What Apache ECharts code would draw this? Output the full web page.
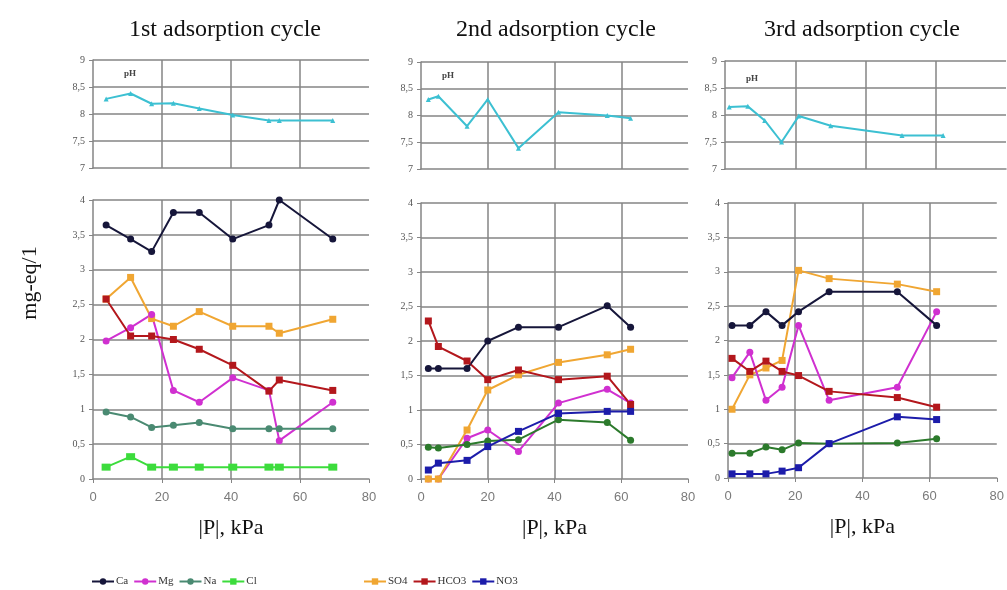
<!DOCTYPE html>
<html>
<head>
<meta charset="utf-8">
<script src="https://cdn.jsdelivr.net/npm/echarts@6/dist/echarts.min.js"></script>
<style>
html,body{margin:0;padding:0;background:#fff;}
#chart{width:1007px;height:590px;}
</style>
</head>
<body>
<div id="chart"></div>
<script>
// ---- data ----
const titles = ['1st adsorption cycle', '2nd adsorption cycle', '3rd adsorption cycle'];
const legendLeft = ['Ca', 'Mg', 'Na', 'Cl'];
const legendRight = ['SO4', 'HCO3', 'NO3'];
const xTicks = [0, 20, 40, 60, 80];

// cycle 1
const x1 = [3.8, 10.9, 17, 23.3, 30.8, 40.5, 51, 54, 69.5];
const ph1 = [8.28, 8.38, 8.19, 8.2, 8.1, 7.98, 7.88, 7.88, 7.88];
const ca1 = [3.64, 3.44, 3.26, 3.82, 3.82, 3.44, 3.64, 4.0, 3.44];
const mg1 = [1.98, 2.17, 2.36, 1.27, 1.10, 1.45, 1.27, 0.55, 1.10];
const na1 = [0.96, 0.89, 0.74, 0.77, 0.81, 0.72, 0.72, 0.72, 0.72];
const cl1 = [0.17, 0.32, 0.17, 0.17, 0.17, 0.17, 0.17, 0.17, 0.17];
const so41 = [2.58, 2.89, 2.30, 2.19, 2.40, 2.19, 2.19, 2.09, 2.29];
const hco31 = [2.58, 2.05, 2.05, 2.0, 1.86, 1.63, 1.26, 1.42, 1.27];

// cycle 2
const x2 = [2.2, 5.2, 13.8, 20, 29.2, 41.2, 55.8, 62.8];
const ph2 = [8.3, 8.36, 7.8, 8.3, 7.39, 8.06, 8.0, 7.95];
const ca2 = [1.60, 1.60, 1.60, 2.0, 2.20, 2.20, 2.51, 2.20];
const mg2 = [0, 0, 0.59, 0.71, 0.40, 1.10, 1.30, 1.10];
const na2 = [0.46, 0.45, 0.50, 0.55, 0.57, 0.86, 0.82, 0.56];
const so42 = [0, 0, 0.71, 1.29, 1.51, 1.69, 1.80, 1.88];
const hco32 = [2.29, 1.92, 1.71, 1.44, 1.58, 1.44, 1.49, 1.08];
const no32 = [0.13, 0.23, 0.27, 0.47, 0.69, 0.95, 0.98, 0.98];

// cycle 3
const x3 = [1.2, 6.5, 11.3, 16.1, 21, 30.1, 50.4, 62.1];
const ph3 = [8.15, 8.16, 7.9, 7.5, 7.98, 7.8, 7.62, 7.62];
const ca3 = [2.22, 2.22, 2.42, 2.22, 2.42, 2.71, 2.71, 2.22];
const mg3 = [1.46, 1.83, 1.13, 1.32, 2.22, 1.13, 1.32, 2.42];
const na3 = [0.36, 0.36, 0.45, 0.41, 0.51, 0.50, 0.51, 0.57];
const so43 = [1.0, 1.5, 1.6, 1.71, 3.02, 2.9, 2.82, 2.71];
const hco33 = [1.74, 1.55, 1.70, 1.55, 1.49, 1.26, 1.17, 1.03];
const no33 = [0.06, 0.06, 0.06, 0.10, 0.15, 0.50, 0.89, 0.85];

// ---- styling ----
const SERIF = '"Liberation Serif", "DejaVu Serif", serif';
const SANS = '"Liberation Sans", Arial, sans-serif';
const colors = {
  Ca: '#16163a', Mg: '#d030d0', Na: '#4a8a72', Na2: '#2c7a2c', Cl: '#3cdc3c',
  SO4: '#f0a632', HCO3: '#b3171c', NO3: '#1c1caa', pH: '#3cc0d2'
};
const symbols = { Ca: 'circle', Mg: 'circle', Na: 'circle', Cl: 'rect', SO4: 'rect', HCO3: 'rect', NO3: 'rect' };

const grids = [
  { left: 93, top: 60, width: 276, height: 108 },
  { left: 93, top: 200, width: 276, height: 279 },
  { left: 421, top: 62, width: 267, height: 107 },
  { left: 421, top: 203, width: 267, height: 276 },
  { left: 725, top: 61, width: 281, height: 108 },
  { left: 728, top: 203, width: 276, height: 275 }
];

const gridLine = { show: true, lineStyle: { color: '#858585', width: 1.5 } };
const fmt = v => String(v).replace('.', ',');

const xAxes = grids.map((g, i) => {
  const bottom = i % 2 === 1;
  return {
    type: 'value', gridIndex: i, min: xTicks[0], max: xTicks[xTicks.length - 1], interval: xTicks[1] - xTicks[0],
    axisLine: { show: true, lineStyle: { color: '#858585', width: 1.5 } },
    axisTick: { show: bottom, length: 4, lineStyle: { color: '#858585' } },
    axisLabel: { show: bottom, color: '#7a7a7a', fontFamily: SANS, fontSize: 13, margin: 12 },
    splitLine: Object.assign({ showMaxLine: false, showMinLine: false }, gridLine),
    name: bottom ? '|P|, kPa' : '',
    nameLocation: 'middle', nameGap: 38,
    nameTextStyle: { fontFamily: SERIF, fontSize: 22, color: '#111' }
  };
});
const yAxes = grids.map((g, i) => {
  const bottom = i % 2 === 1;
  return {
    type: 'value', gridIndex: i,
    min: bottom ? 0 : 7, max: bottom ? 4 : 9, interval: 0.5,
    axisLine: { show: true, lineStyle: { color: '#858585', width: 1.5 } },
    axisTick: { show: true, length: 4, lineStyle: { color: '#858585' } },
    axisLabel: { color: '#555', fontFamily: SERIF, fontSize: 10, margin: 8, formatter: fmt },
    splitLine: Object.assign({ showMinLine: false }, gridLine)
  };
});

function pts(xs, ys) { return xs.map((x, i) => [x, ys[i]]); }
function ionSeries(name, gi, xs, ys, colorKey) {
  const c = colors[colorKey || name];
  return {
    type: 'line', name: name, xAxisIndex: gi, yAxisIndex: gi,
    data: pts(xs, ys), symbol: symbols[name], symbolSize: name === 'Cl' ? [9, 7] : 7,
    lineStyle: { color: c, width: 2 }, itemStyle: { color: c, borderWidth: 0 },
    emphasis: { disabled: true }, animation: false
  };
}
function phSeries(gi, xs, ys) {
  return {
    type: 'line', name: 'pH', xAxisIndex: gi, yAxisIndex: gi,
    data: pts(xs, ys), symbol: 'triangle', symbolSize: 5,
    lineStyle: { color: colors.pH, width: 2 }, itemStyle: { color: colors.pH },
    emphasis: { disabled: true }, animation: false
  };
}

const series = [
  phSeries(0, x1, ph1),
  ionSeries('SO4', 1, x1, so41),
  ionSeries('Mg', 1, x1, mg1),
  ionSeries('Na', 1, x1, na1),
  ionSeries('Cl', 1, x1, cl1),
  ionSeries('HCO3', 1, x1, hco31),
  ionSeries('Ca', 1, x1, ca1),

  phSeries(2, x2, ph2),
  ionSeries('Mg', 3, x2, mg2),
  ionSeries('SO4', 3, x2, so42),
  ionSeries('Na', 3, x2, na2, 'Na2'),
  ionSeries('HCO3', 3, x2, hco32),
  ionSeries('NO3', 3, x2, no32),
  ionSeries('Ca', 3, x2, ca2),

  phSeries(4, x3, ph3),
  ionSeries('SO4', 5, x3, so43),
  ionSeries('Mg', 5, x3, mg3),
  ionSeries('Na', 5, x3, na3, 'Na2'),
  ionSeries('HCO3', 5, x3, hco33),
  ionSeries('NO3', 5, x3, no33),
  ionSeries('Ca', 5, x3, ca3)
];

const legendCommon = {
  top: 571, itemWidth: 22, itemHeight: 8, itemGap: 5, orient: 'horizontal',
  textStyle: { fontFamily: SERIF, fontSize: 11, color: '#333', padding: [0, 0, 0, -3] },
  selectedMode: false
};

const titleCenters = [225, 556, 862];
const graphic = [];
titles.forEach((t, i) => graphic.push({
  type: 'text', x: titleCenters[i], y: 30,
  style: { text: t, fontFamily: SERIF, fontSize: 24, fill: '#111', align: 'center', verticalAlign: 'middle' }
}));
[[130, 74], [448, 76], [752, 79]].forEach(p => graphic.push({
  type: 'text', x: p[0], y: p[1],
  style: { text: 'pH', fontFamily: SERIF, fontSize: 9, fontWeight: 'bold', fill: '#444', align: 'center', verticalAlign: 'middle' }
}));
graphic.push({
  type: 'text', x: 30, y: 283, rotation: Math.PI / 2,
  style: { text: 'mg-eq/1', fontFamily: SERIF, fontSize: 22, fill: '#111', align: 'center', verticalAlign: 'middle' }
});

const chart = echarts.init(document.getElementById('chart'), null, { renderer: 'canvas' });
chart.setOption({
  backgroundColor: '#fff',
  animation: false,
  grid: grids,
  xAxis: xAxes,
  yAxis: yAxes,
  legend: [
    Object.assign({ left: 86, data: legendLeft }, legendCommon),
    Object.assign({ left: 358, data: legendRight }, legendCommon)
  ],
  graphic: graphic,
  series: series
});
</script>
</body>
</html>
